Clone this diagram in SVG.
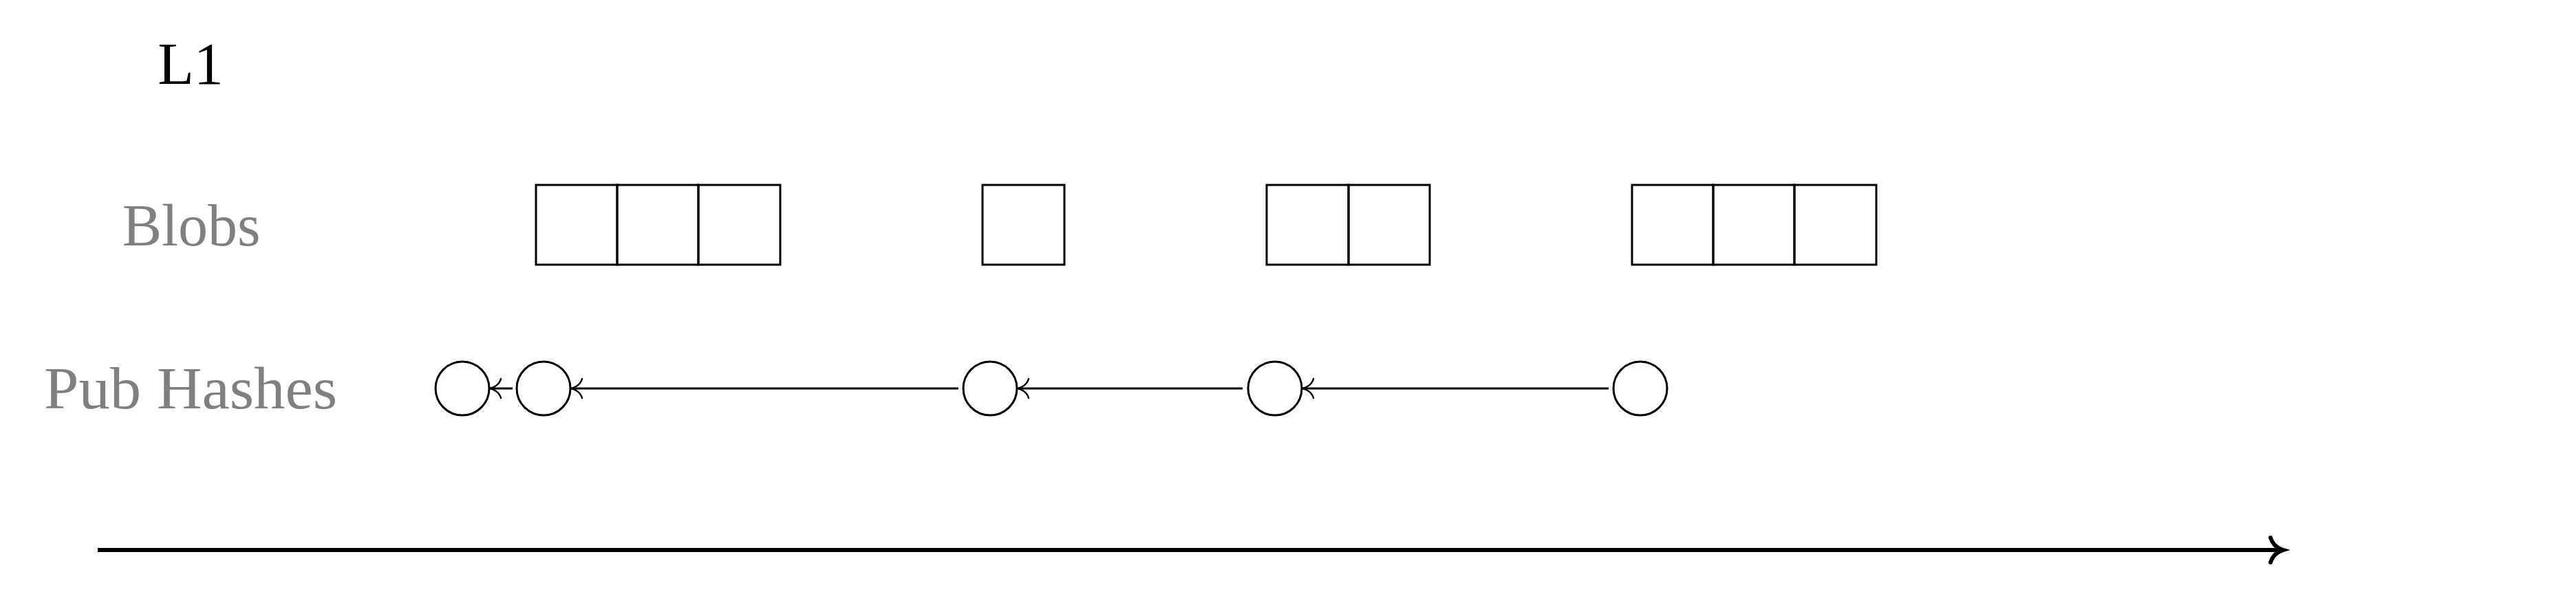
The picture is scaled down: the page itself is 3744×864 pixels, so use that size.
<svg xmlns="http://www.w3.org/2000/svg" width="3744" height="864" viewBox="0 0 3744 864">
<style>
.lbl{font-family:"Liberation Serif","Times New Roman",serif;font-size:86px;text-anchor:middle}
.gray{fill:#808080}
.cell{fill:none;stroke:#000;stroke-width:3}
.hash{fill:none;stroke:#000;stroke-width:3}
.conn{stroke:#000;stroke-width:3;fill:none}
.time{stroke:#000;stroke-width:6;fill:none}
</style>
<defs>
<marker id="to" markerUnits="userSpaceOnUse" markerWidth="40" markerHeight="40" viewBox="-20 -20 40 40" refX="0" refY="0" orient="auto" overflow="visible">
<path d="M-16,-14 C-14,-6 -6,-1 0,0 C-6,1 -14,6 -16,14" fill="none" stroke="#000" stroke-width="2.5" stroke-linecap="round"/>
</marker>
<marker id="big" markerUnits="userSpaceOnUse" markerWidth="60" markerHeight="60" viewBox="-30 -30 60 60" refX="0" refY="0" orient="auto" overflow="visible">
<path d="M-18,-18 C-15,-8 -7,-2 0,0 C-7,2 -15,8 -18,18" fill="none" stroke="#000" stroke-width="6" stroke-linecap="round"/>
</marker>
</defs>
<rect width="3744" height="864" fill="#fff"/>
<g id="labels">
<text class="lbl" x="277" y="122">L1</text>
<text class="lbl gray" x="278" y="357">Blobs</text>
<text class="lbl gray" x="277" y="594" textLength="426" lengthAdjust="spacingAndGlyphs">Pub Hashes</text>
</g>
<g id="blobs1">
<rect class="cell" x="779" y="269" width="118" height="116"/>
<rect class="cell" x="897" y="269" width="118" height="116"/>
<rect class="cell" x="1015" y="269" width="119" height="116"/>
</g>
<g id="blobs2">
<rect class="cell" x="1428" y="269" width="119" height="116"/>
</g>
<g id="blobs3">
<rect class="cell" x="1841" y="269" width="119" height="116"/>
<rect class="cell" x="1960" y="269" width="118" height="116"/>
</g>
<g id="blobs4">
<rect class="cell" x="2372" y="269" width="118" height="116"/>
<rect class="cell" x="2490" y="269" width="118" height="116"/>
<rect class="cell" x="2608" y="269" width="119" height="116"/>
</g>
<g id="hash1"><circle class="hash" cx="672" cy="565" r="39"/></g>
<g id="hash2"><circle class="hash" cx="790" cy="565" r="39"/></g>
<g id="hash3"><circle class="hash" cx="1439" cy="565" r="39"/></g>
<g id="hash4"><circle class="hash" cx="1853" cy="565" r="39"/></g>
<g id="hash5"><circle class="hash" cx="2384" cy="565" r="39"/></g>
<g id="connectors">
<line class="conn" x1="745" y1="565" x2="712" y2="565" marker-end="url(#to)"/>
<line class="conn" x1="1393" y1="565" x2="830" y2="565" marker-end="url(#to)"/>
<line class="conn" x1="1806" y1="565" x2="1479" y2="565" marker-end="url(#to)"/>
<line class="conn" x1="2338" y1="565" x2="1893" y2="565" marker-end="url(#to)"/>
<line class="time" x1="142" y1="800" x2="3318" y2="800" marker-end="url(#big)"/>
</g>
</svg>
